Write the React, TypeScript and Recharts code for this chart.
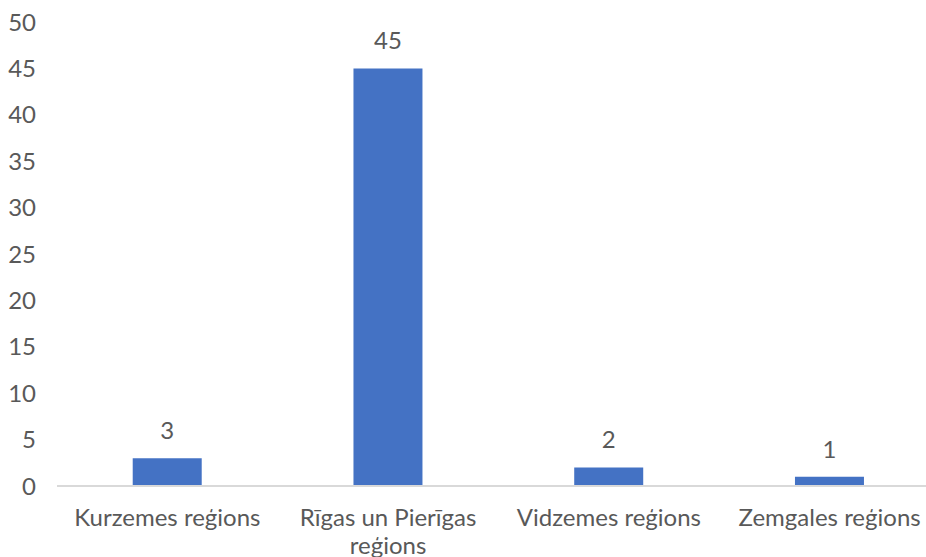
// Count by planning region — single blue series, value labels above bars.
import { BarChart, Bar, XAxis, YAxis, LabelList } from 'recharts';

const REGIONS = [
  'Kurzemes reģions',
  'Rīgas un Pierīgas reģions',
  'Vidzemes reģions',
  'Zemgales reģions',
];
const COUNTS = [3, 45, 2, 1];
const Y_TICKS = [0, 5, 10, 15, 20, 25, 30, 35, 40, 45, 50];

const data = REGIONS.map((region, i) => ({ region, count: COUNTS[i] }));

const FONT = 'Lato, "Noto Sans", sans-serif';
const TEXT_COLOR = '#595959';
const FONT_SIZE = 24;
const MAX_LINE_CHARS = 17;

// greedy word wrap, like the category axis of the original chart
function wrap(label: string): string[] {
  const lines: string[] = [];
  let cur = '';
  for (const word of label.split(' ')) {
    const next = cur ? cur + ' ' + word : word;
    if (next.length > MAX_LINE_CHARS && cur) {
      lines.push(cur);
      cur = word;
    } else {
      cur = next;
    }
  }
  if (cur) lines.push(cur);
  return lines;
}

function RegionTick(props: any) {
  const { x, y, payload } = props;
  const lines = wrap(String(payload.value));
  return (
    <text
      x={x}
      y={y + 32}
      textAnchor="middle"
      fill={TEXT_COLOR}
      fontSize={FONT_SIZE}
      fontFamily={FONT}
    >
      {lines.map((line, i) => (
        <tspan key={i} x={x} dy={i === 0 ? 0 : 28}>
          {line}
        </tspan>
      ))}
    </text>
  );
}

export default function App() {
  return (
    <div
      style={{
        position: 'absolute',
        left: 0,
        top: 0,
        width: 926,
        height: 557,
        overflow: 'hidden',
        background: '#fff',
      }}
    >
      <BarChart
        width={960}
        height={557}
        data={data}
        margin={{ top: 22, right: 20, left: 0, bottom: 0 }}
        barCategoryGap="34.3%"
      >
        <XAxis
          dataKey="region"
          height={71}
          interval={0}
          tickLine={false}
          axisLine={{ stroke: '#D9D9D9', strokeWidth: 2 }}
          tick={<RegionTick />}
        />
        <YAxis
          width={57}
          domain={[0, 50]}
          ticks={Y_TICKS}
          axisLine={false}
          tickLine={false}
          tickMargin={15}
          tick={{ fill: TEXT_COLOR, fontSize: FONT_SIZE, fontFamily: FONT }}
        />
        <Bar dataKey="count" fill="#4472C4" isAnimationActive={false}>
          <LabelList
            dataKey="count"
            position="top"
            offset={19}
            fill={TEXT_COLOR}
            fontSize={FONT_SIZE}
            fontFamily={FONT}
          />
        </Bar>
      </BarChart>
    </div>
  );
}
